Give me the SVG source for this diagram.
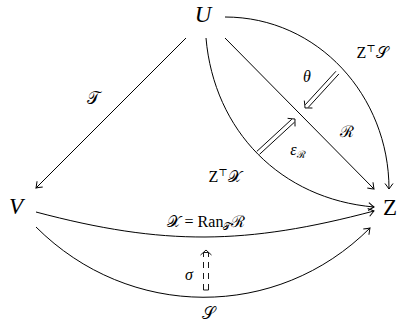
<svg xmlns="http://www.w3.org/2000/svg" width="399" height="324" viewBox="0 0 399 324">
<style>
text{font-family:"Liberation Serif","DejaVu Serif",serif;fill:#000}
.edge{fill:none;stroke:#000;stroke-width:1}
.dbl{fill:none;stroke:#000;stroke-width:0.9}
</style>
<defs>
<marker id="ah" markerUnits="userSpaceOnUse" markerWidth="12" markerHeight="12" viewBox="-7 -6 8 12" refX="0" refY="0" orient="auto">
<path d="M-5.5,-4 Q-1.5,-1 0,0 Q-1.5,1 -5.5,4" fill="none" stroke="#000" stroke-width="1"/>
</marker>
</defs>
<g id="nodeU"><text x="203" y="22" text-anchor="middle" font-size="23" font-style="italic">U</text></g>
<g id="nodeV"><text x="16" y="214" text-anchor="middle" font-size="23" font-style="italic">V</text></g>
<g id="nodeZ"><text x="390" y="215" text-anchor="middle" font-size="23">Z</text></g>
<g id="connectors">
<path class="edge" d="M186,38 L36,188" marker-end="url(#ah)"/>
<path class="edge" d="M225,38 L374,189" marker-end="url(#ah)"/>
<path class="edge" d="M225,17 C318,17 389,96 389,189" marker-end="url(#ah)"/>
<path class="edge" d="M206,38 C214,131 281,199 374,207" marker-end="url(#ah)"/>
<path class="edge" d="M36,212 C164,246 246,245 374,211" marker-end="url(#ah)"/>
<path class="edge" d="M36,227 C129,320 277,321 370,228" marker-end="url(#ah)"/>
<g transform="translate(305,108) rotate(132.5)">
<path class="dbl" d="M-48,-2 L-2.5,-2 M-48,2 L-2.5,2"/>
<path class="dbl" d="M-5,-5.5 Q-1.5,-1.5 0,0 Q-1.5,1.5 -5,5.5"/>
</g>
<g transform="translate(295,119) rotate(-42.6)">
<path class="dbl" d="M-50,-2 L-2.5,-2 M-50,2 L-2.5,2"/>
<path class="dbl" d="M-5,-5.5 Q-1.5,-1.5 0,0 Q-1.5,1.5 -5,5.5"/>
</g>
<g transform="translate(206,250) rotate(-90)">
<path class="dbl" d="M-40,-2.5 L-2.5,-2.5 M-40,2.5 L-2.5,2.5" stroke-dasharray="6,5"/>
<path class="dbl" d="M-40,-2.5 L-40,2.5 M-2.5,-2.5 L-2.5,2.5"/>
<path class="dbl" d="M-5,-5.5 Q-1.5,-1.5 0,0 Q-1.5,1.5 -5,5.5"/>
</g>
</g>
<g id="labels" font-size="16">
<text x="93" y="104" text-anchor="middle" font-size="17">𝒯</text>
<text x="307" y="82" text-anchor="middle" font-style="italic">θ</text>
<text x="372" y="58" text-anchor="middle">Z<tspan font-size="10" dy="-6">⊤</tspan><tspan dy="6">𝒮</tspan></text>
<text x="347" y="137" text-anchor="middle">ℛ</text>
<text x="298" y="155" text-anchor="middle"><tspan font-style="italic">ε</tspan><tspan font-size="10" dy="3">ℛ</tspan></text>
<text x="225" y="182" text-anchor="middle">Z<tspan font-size="10" dy="-6">⊤</tspan><tspan dy="6">𝒳</tspan></text>
<text x="206" y="227" text-anchor="middle">𝒳 = Ran<tspan font-size="10" dy="3">𝒯</tspan><tspan dy="-3">ℛ</tspan></text>
<text x="189" y="280" text-anchor="middle" font-style="italic">σ</text>
<text x="208" y="319" text-anchor="middle" font-size="17">𝒮</text>
</g>
</svg>
